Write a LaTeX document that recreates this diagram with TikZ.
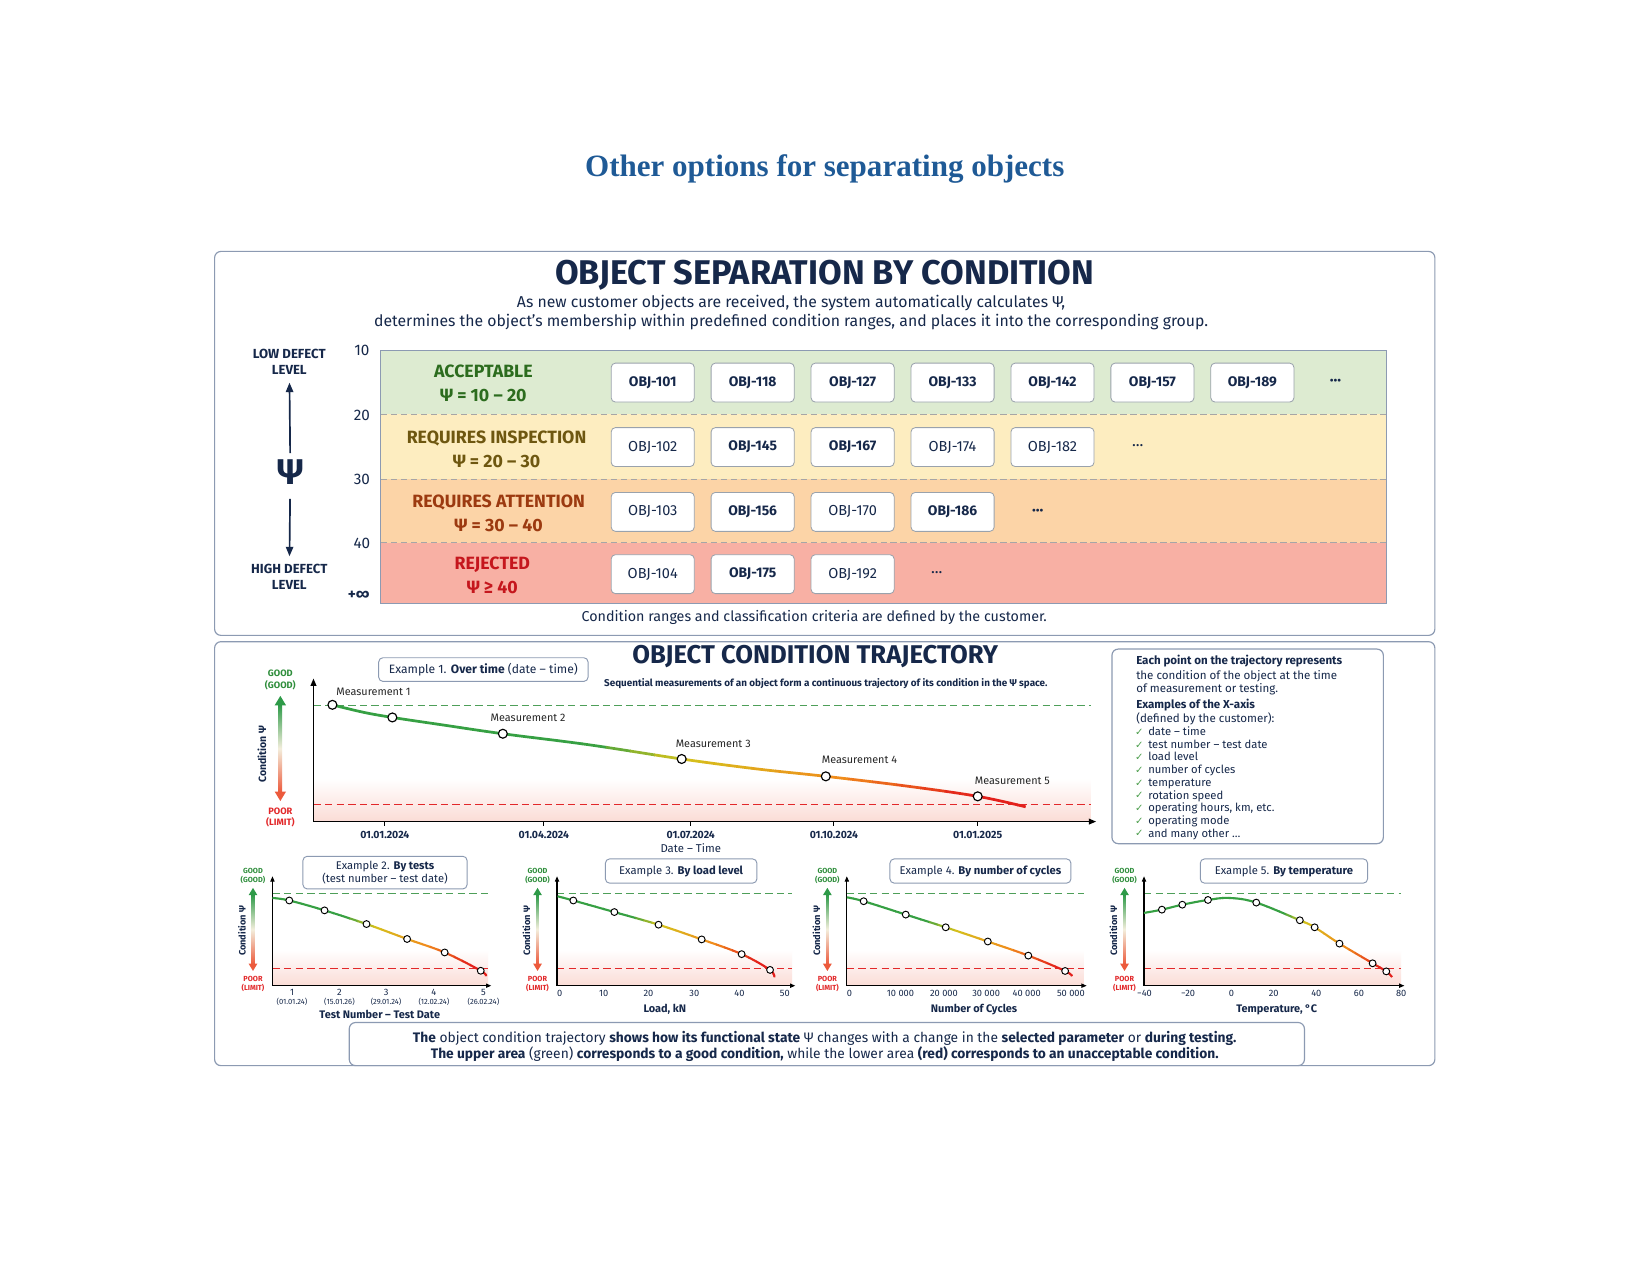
\documentclass[tikz,border=0pt]{standalone}
\usepackage{fontspec}
\setmainfont{Fira Sans}
\newfontfamily\headfont{Liberation Serif}
\newfontfamily\symfont{DejaVu Sans}
\usetikzlibrary{positioning,arrows.meta}

\definecolor{titleblue}{HTML}{1F5A96}
\definecolor{navy}{HTML}{16284A}
\definecolor{framegray}{HTML}{8C9AB2}
\definecolor{boxgray}{HTML}{9AA2AC}
\definecolor{bandgreen}{HTML}{DDEBD1}
\definecolor{bandyellow}{HTML}{FDEDC0}
\definecolor{bandorange}{HTML}{FCD4A7}
\definecolor{bandred}{HTML}{F8B0A4}
\definecolor{okgreen}{HTML}{2C6C1E}
\definecolor{inspbrown}{HTML}{6E5710}
\definecolor{attnbrown}{HTML}{9C3A10}
\definecolor{rejred}{HTML}{C5161D}
\definecolor{goodgreen}{HTML}{2F8E3C}
\definecolor{poorred}{HTML}{E2282A}
\definecolor{shadered}{HTML}{FBDCD6}
\definecolor{agreen}{HTML}{2E9A48}
\definecolor{ared}{HTML}{EC5A3C}
\definecolor{amid}{HTML}{F3EEDC}
\definecolor{tgreen}{HTML}{36A043}
\definecolor{tyellow}{HTML}{D4C21C}
\definecolor{torange}{HTML}{F08C1C}
\definecolor{tred}{HTML}{E3201B}
\definecolor{checkgreen}{HTML}{4C9E4C}

\newcommand\sz[2][1.2]{\fontsize{#2}{\fpeval{#1*#2}}\selectfont}

% colour of the trajectory at fraction #1
\newcommand\trajcolor[1]{%
  \pgfmathsetmacro\tp{#1}%
  \ifdim\tp pt<0.38pt \colorlet{tc}{tgreen}%
  \else\ifdim\tp pt<0.5pt \pgfmathsetmacro\tq{(0.5-\tp)/0.12*100}\colorlet{tc}{tgreen!\tq!tyellow}%
  \else\ifdim\tp pt<0.72pt \pgfmathsetmacro\tq{(0.72-\tp)/0.22*100}\colorlet{tc}{tyellow!\tq!torange}%
  \else\ifdim\tp pt<0.9pt \pgfmathsetmacro\tq{(0.9-\tp)/0.18*100}\colorlet{tc}{torange!\tq!tred}%
  \else \colorlet{tc}{tred}\fi\fi\fi\fi}

% curve #3 drawn in strips, green at x=#1 to red at x=#2
\newcommand\trajectory[3]{%
  \begin{scope}\clip (0,0) rectangle (#1,1212); \draw[traj,tgreen] #3; \end{scope}
  \begin{scope}\clip (#2,0) rectangle (1568,1212); \draw[traj,tred] #3; \end{scope}
  \foreach \k in {0,...,29}{%
    \pgfmathsetmacro\xa{#1+(#2-#1)/30*\k}%
    \pgfmathsetmacro\xb{#1+(#2-#1)/30*(\k+1)+0.5}%
    \trajcolor{(\k+0.5)/30}%
    \begin{scope}\clip (\xa,0) rectangle (\xb,1212); \draw[traj,tc] #3; \end{scope}}}

% green-to-red double arrow: x, top, bottom, shaft width, head length
\newcommand\condarrow[5]{%
  \shade[top color=agreen,bottom color=ared,middle color=amid] (#1-#4/2,#2+#5-0.5) rectangle (#1+#4/2,#3-#5+0.5);
  \fill[agreen] (#1,#2) -- (#1-#5*0.6,#2+#5) -- (#1+#5*0.6,#2+#5) -- cycle;
  \fill[ared] (#1,#3) -- (#1-#5*0.6,#3-#5) -- (#1+#5*0.6,#3-#5) -- cycle;}

% frame of a small chart: prefix, axis x, axis end x
\newcommand\minichart[3]{%
  \shade[top color=white,bottom color=shadered] (#2,903) rectangle (#3-3,937);
  \draw[gooddash] (#2,849) -- (#3-3,849);
  \draw[limitdash] (#2,921) -- (#3-3,921);
  \draw[axisline,line width=1pt,-{Triangle[length=5pt,width=4pt]}] (#2,937) -- (#3,937);
  \draw[axisline,line width=1pt,-{Triangle[length=5pt,width=4pt]}] (#2,937) -- (#2,833);
  \node[goodlbl,font={\bfseries\sz[1.25]{7}}] (#1good) at (#2-18.5,832.5) {GOOD\\(GOOD)};
  \node[poorlbl,font={\bfseries\sz[1.25]{7}}] (#1poor) at (#2-18.5,935.5) {POOR\\(LIMIT)};
  \node[condlbl,font={\bfseries\sz{8.8}}] (#1cond) at (#2-29,885) {Condition Ψ};
  \condarrow{#2-18.5}{844}{923}{2.6}{7}}

\begin{document}
\begin{tikzpicture}
  [x=1pt,y=-1pt,node distance=95pt,on grid,
  panel/.style={draw=framegray,line width=1.1pt,rounded corners=6pt,fill=white},
  objbox/.style={draw=boxgray,line width=0.8pt,fill=white,rounded corners=4pt,minimum width=79pt,minimum height=37pt,inner sep=0pt,text=navy,font={\bfseries\sz{13.2}}},
  objlite/.style={objbox,font={\sz{13.8}}},
  dotsrow/.style={text=navy,font={\bfseries\sz{15}}},
  bandlbl/.style={align=center,font={\bfseries\sz[1.36]{16.9}}},
  scalelbl/.style={text=navy,font={\sz{14.5}}},
  sidelbl/.style={align=center,text=navy,font={\bfseries\sz[1.24]{12.5}}},
  bandsep/.style={draw=black!35,dash pattern=on 6pt off 3.5pt,line width=0.8pt},
  gooddash/.style={draw=goodgreen!85,dash pattern=on 7pt off 4pt,line width=0.8pt},
  limitdash/.style={draw=poorred,dash pattern=on 7pt off 4pt,line width=0.8pt},
  axisline/.style={draw=black,line width=1.3pt},
  goodlbl/.style={align=center,text=goodgreen},
  poorlbl/.style={align=center,text=poorred},
  condlbl/.style={rotate=90,text=navy},
  exbox/.style={draw=framegray,fill=white,line width=0.9pt,rounded corners=4pt,inner sep=0pt,text=navy,align=center},
  ticklbl/.style={text=navy,font={\bfseries\sz{10}}},
  smalltick/.style={text=navy,font={\sz{8.8}}},
  datelbl/.style={text=navy,font={\sz{7.2}}},
  axislbl/.style={text=navy,font={\bfseries\sz{10.4}}},
  measlbl/.style={text=black!85,font={\sz{10.3}}},
  mpoint/.style={circle,draw=black,fill=white,line width=1.1pt,minimum size=8.5pt,inner sep=0pt},
  spoint/.style={mpoint,line width=0.9pt,minimum size=6.5pt},
  traj/.style={line width=2.6pt},
  infotxt/.style={anchor=base west,text=navy,font={\sz{10.7}}}]

  \useasboundingbox[fill=white] (0,0) rectangle (1568.5,1212);

  \node[font={\headfont\bfseries\sz{29.5}},text=titleblue] (title) at (784,161) {Other options for separating objects};

  \draw[panel] (204,239) rectangle (1364,604);
  \draw[panel] (204,610) rectangle (1364,1013);

  % condition ranges
  \node[font={\bfseries\sz{32.6}},text=navy] (headA) at (784,262) {OBJECT SEPARATION BY CONDITION};
  \node[font={\sz[1.2]{15}},text=navy,align=center] (subA) at (752,297) {As new customer objects are received, the system automatically calculates Ψ,\\determines the object’s membership within predefined condition ranges, and places it into the corresponding group.};

  \fill[bandgreen] (362,333.5) rectangle (1318,394);
  \fill[bandyellow] (362,394) rectangle (1318,455.5);
  \fill[bandorange] (362,455.5) rectangle (1318,516);
  \fill[bandred] (362,516) rectangle (1318,574);
  \draw[bandsep] (362,394) -- (1318,394);
  \draw[bandsep] (362,455.5) -- (1318,455.5);
  \draw[bandsep] (362,516) -- (1318,516);
  \draw[draw=framegray,line width=0.8pt] (362,333.5) rectangle (1318,574);

  \node[scalelbl] (s10) at (344,333) {10};
  \node[scalelbl] (s20) at (344,395) {20};
  \node[scalelbl] (s30) at (344,456) {30};
  \node[scalelbl] (s40) at (344,517) {40};
  \node[scalelbl,font={\bfseries\sz{14.5}}] (sinf) at (341,566) {+∞};

  \node[sidelbl] (low) at (275,344) {LOW DEFECT\\LEVEL};
  \node[font={\bfseries\sz{34}},text=navy] (psi) at (276,449) {Ψ};
  \node[sidelbl] (high) at (275,548.5) {HIGH DEFECT\\LEVEL};
  \draw[navy,line width=1.6pt,-{Triangle[length=9pt,width=7pt]},shorten <=3pt,shorten >=4pt] (psi) -- (low);
  \draw[navy,line width=1.6pt,-{Triangle[length=9pt,width=7pt]},shorten <=10pt,shorten >=4pt] (psi) -- (high);

  \node[bandlbl,text=okgreen] (accept) at (459.5,364.5) {ACCEPTABLE\\Ψ = 10 – 20};
  \node[bandlbl,text=inspbrown] (inspect) at (472,427) {REQUIRES INSPECTION\\Ψ = 20 – 30};
  \node[bandlbl,text=attnbrown] (attend) at (474,488) {REQUIRES ATTENTION\\Ψ = 30 – 40};
  \node[bandlbl,text=rejred] (reject) at (468,547) {REJECTED\\Ψ ≥ 40};

  \node[objbox] (a1) at (620.5,363.7) {OBJ-101};
  \node[objbox] (a2) [right=of a1] {OBJ-118};
  \node[objbox] (a3) [right=of a2] {OBJ-127};
  \node[objbox] (a4) [right=of a3] {OBJ-133};
  \node[objbox] (a5) [right=of a4] {OBJ-142};
  \node[objbox] (a6) [right=of a5] {OBJ-157};
  \node[objbox] (a7) [right=of a6] {OBJ-189};
  \node[dotsrow] (a8) [right=79pt of a7] {···};

  \node[objlite] (b1) at (620.5,425) {OBJ-102};
  \node[objbox] (b2) [right=of b1] {OBJ-145};
  \node[objbox] (b3) [right=of b2] {OBJ-167};
  \node[objlite] (b4) [right=of b3] {OBJ-174};
  \node[objlite] (b5) [right=of b4] {OBJ-182};
  \node[dotsrow,font={\sz{15}}] (b6) [right=81pt of b5] {···};

  \node[objlite] (c1) at (620.5,486.6) {OBJ-103};
  \node[objbox] (c2) [right=of c1] {OBJ-156};
  \node[objlite] (c3) [right=of c2] {OBJ-170};
  \node[objbox] (c4) [right=of c3] {OBJ-186};
  \node[dotsrow] (c5) [right=81pt of c4] {···};

  \node[objlite] (d1) at (620.5,545.8) {OBJ-104};
  \node[objbox] (d2) [right=of d1] {OBJ-175};
  \node[objlite] (d3) [right=of d2] {OBJ-192};
  \node[dotsrow,font={\sz{15}}] (d4) [right=80pt of d3] {···};

  \node[font={\sz{13.6}},text=navy] (footA) at (774,587) {Condition ranges and classification criteria are defined by the customer.};

  % trajectory over time
  \node[font={\bfseries\sz{24.4}},text=navy] (headB) at (775,624) {OBJECT CONDITION TRAJECTORY};
  \node[font={\bfseries\sz{9.4}},text=navy] (subB) at (785,650) {Sequential measurements of an object form a continuous trajectory of its condition in the Ψ space.};
  \node[exbox,minimum width=199pt,minimum height=22.5pt,font={\sz{11.5}}] (ex1) at (459.5,636.5) {Example 1. \textbf{Over time} (date – time)};

  \shade[top color=white,bottom color=shadered] (298,740) rectangle (1037,781);
  \draw[gooddash] (298,671) -- (1037,671);
  \draw[limitdash] (298,765) -- (1037,765);
  \draw[axisline,-{Triangle[length=7pt,width=5.5pt]}] (298,781) -- (1042,781);
  \draw[axisline,-{Triangle[length=7pt,width=5.5pt]}] (298,781) -- (298,645);
  \foreach \x/\d [count=\i] in {365.8/01.01.2024,517/01.04.2024,656.6/01.07.2024,792.7/01.10.2024,929.4/01.01.2025}{
    \draw[axisline,line width=0.9pt] (\x,781) -- (\x,785);
    \node[ticklbl] (t\i) at (\x,794) {\d};}
  \node[font={\sz{10.8}},text=navy] (datetime) at (656.6,806) {Date – Time};

  \node[goodlbl,font={\bfseries\sz[1.25]{8.8}}] (good) at (266.5,646.5) {GOOD\\(GOOD)};
  \node[poorlbl,font={\bfseries\sz[1.25]{8.8}}] (poor) at (266.5,777) {POOR\\(LIMIT)};
  \node[condlbl,font={\bfseries\sz{10}}] (cond) at (249,717) {Condition Ψ};
  \condarrow{266.5}{661.5}{761.5}{3.2}{9}

  \trajectory{300}{990}{plot[smooth,tension=0.6] coordinates {(316,670) (345,677) (373,682) (420,689) (478,697.5) (560,708) (648,721.5) (720,731) (785,738) (860,747) (929.4,757) (975,767)}}
  \foreach \x/\y [count=\i] in {316/670,373/682,478/697.5,648/721.5,785/738,929.4/757}
    \node[mpoint] (m\i) at (\x,\y) {};
  \node[measlbl,above right=12.5pt and 39pt of m1] (ml1) {Measurement 1};
  \node[measlbl,above right=15pt and 24pt of m3] (ml2) {Measurement 2};
  \node[measlbl,above right=14.5pt and 30pt of m4] (ml3) {Measurement 3};
  \node[measlbl,above right=16pt and 32pt of m5] (ml4) {Measurement 4};
  \node[measlbl,above right=14.5pt and 33pt of m6] (ml5) {Measurement 5};

  % x-axis examples
  \draw[panel] (1057,617) rectangle (1315,802);
  \node[infotxt,font={\bfseries\sz{11}}] (i1) at (1076.6,632) {Each point on the trajectory represents};
  \node[infotxt,font={\sz{11}}] (i2) at (1076.6,645.5) {the condition of the object at the time};
  \node[infotxt,font={\sz{11}}] (i3) at (1076.6,658.3) {of measurement or testing.};
  \node[infotxt,font={\bfseries\sz{11}}] (i4) at (1076.6,673.2) {Examples of the X-axis};
  \node[infotxt,font={\sz{11}}] (i5) at (1076.6,686.6) {(defined by the customer):};
  \foreach \t [count=\i] in {{date – time},{test number – test date},{load level},{number of cycles},{temperature},{rotation speed},{operating hours, km, etc.},{operating mode},{and many other \dots}}{
    \node[infotxt,text=checkgreen,font={\symfont\sz{9.5}}] (k\i) at (1075.5,695.6+12.05*\i-12.05+3.5) {✓};
    \node[infotxt] (x\i) at (1088,695.6+12.05*\i-12.05+3.7) {\t};}

  % small charts
  \begin{scope}[traj/.style={line width=2pt}]
    \minichart{c2}{259}{467}
    \node[exbox,minimum width=156pt,minimum height=31pt,font={\sz[1.25]{10.6}}] (ex2) at (366,829.5) {Example 2. \textbf{By tests}\\(test number – test date)};
    \foreach \x/\n/\d [count=\i] in {277.6/1/01.01.24,322.7/2/15.01.26,367/3/29.01.24,412.5/4/12.02.24,459.5/5/26.02.24}{
      \node[smalltick] (c2t\i) at (\x,943) {\n};
      \node[datelbl] (c2d\i) at (\x,952.5) {(\d)};}
    \node[axislbl] (c2x) at (361,964.5) {Test Number – Test Date};
    \trajectory{240}{470}{plot[smooth,tension=0.6] coordinates {(259,853.6) (275,856) (308.5,865.4) (348.4,878.4) (387,892.6) (422.7,905.4) (457,922.8) (462,928)}}
    \foreach \x/\y [count=\i] in {275/856,308.5/865.4,348.4/878.4,387/892.6,422.7/905.4,457/922.8}
      \node[spoint] (c2p\i) at (\x,\y) {};

    \minichart{c3}{529.5}{756}
    \node[exbox,minimum width=144pt,minimum height=23pt,font={\sz{10.7}}] (ex3) at (647.5,828) {Example 3. \textbf{By load level}};
    \foreach \x/\n [count=\i] in {532/0,573.8/10,616.4/20,660/30,703/40,746/50}
      \node[smalltick] (c3t\i) at (\x,944) {\n};
    \node[axislbl] (c3x) at (632,959.5) {Load, kN};
    \trajectory{512}{742}{plot[smooth,tension=0.6] coordinates {(530,852) (545,856) (584,867) (626,879) (667,893) (705,907) (732,922) (736,929)}}
    \foreach \x/\y [count=\i] in {545/856,584/867,626/879,667/893,705/907,732/922}
      \node[spoint] (c3p\i) at (\x,\y) {};

    \minichart{c4}{805}{1033}
    \node[exbox,minimum width=172pt,minimum height=23pt,font={\sz{10.7}}] (ex4) at (932,828) {Example 4. \textbf{By number of cycles}};
    \foreach \x/\n [count=\i] in {807.5/0,856/10 000,897.3/20 000,937.4/30 000,976/40 000,1018/50 000}
      \node[smalltick] (c4t\i) at (\x,944) {\n};
    \node[axislbl] (c4x) at (926,959.5) {Number of Cycles};
    \trajectory{787}{1027}{plot[smooth,tension=0.6] coordinates {(805,853) (821,856.7) (861,869.4) (899,881.5) (939,895) (977.5,908.4) (1012.5,923) (1019,928)}}
    \foreach \x/\y [count=\i] in {821/856.7,861/869.4,899/881.5,939/895,977.5/908.4,1012.5/923}
      \node[spoint] (c4p\i) at (\x,\y) {};

    \minichart{c5}{1087.5}{1335}
    \node[exbox,minimum width=159pt,minimum height=23pt,font={\sz{10.7}}] (ex5) at (1220.5,828) {Example 5. \textbf{By temperature}};
    \foreach \x/\n [count=\i] in {1088/−40,1129.4/−20,1170.7/0,1210.8/20,1251.3/40,1291.8/60,1332/80}
      \node[smalltick] (c5t\i) at (\x,944) {\n};
    \node[axislbl] (c5x) at (1213.7,959.5) {Temperature, °C};
    \trajectory{1150}{1330}{plot[smooth,tension=0.6] coordinates {(1087.5,867.8) (1104.5,864.7) (1123.9,860) (1148.3,855.5) (1168.7,853.6) (1194.2,858) (1235.6,874.8) (1249.7,881.5) (1273.3,897) (1304.8,915.7) (1317.8,923.4) (1323.3,928.8)}}
    \foreach \x/\y [count=\i] in {1104.5/864.7,1123.9/860,1148.3/855.5,1194.2/858,1235.6/874.8,1249.7/881.5,1273.3/897,1304.8/915.7,1317.8/923.4}
      \node[spoint] (c5p\i) at (\x,\y) {};
  \end{scope}

  \draw[panel] (332,972) rectangle (1240,1013);
  \node[font={\sz[1.15]{13.1}},text=navy,align=center] (footB) at (784,994.5) {{\bfseries The} object condition trajectory {\bfseries shows how its functional state} Ψ changes with a change in the {\bfseries selected parameter} or {\bfseries during testing.}\\{\bfseries The upper area} (green) {\bfseries corresponds to a good condition,} while the lower area {\bfseries (red) corresponds to an unacceptable condition.}};
\end{tikzpicture}
\end{document}
